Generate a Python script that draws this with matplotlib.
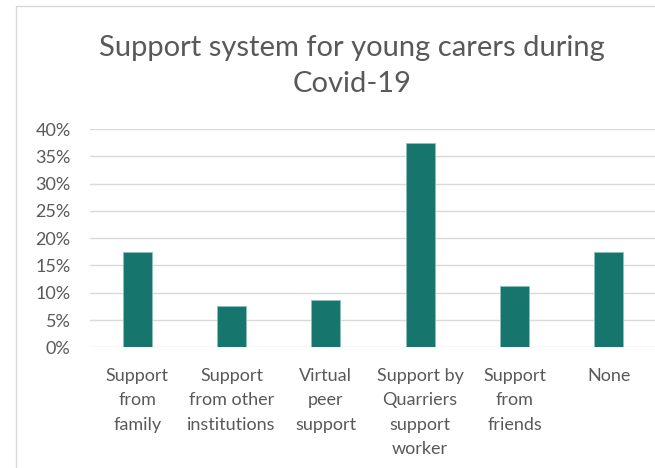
import matplotlib
matplotlib.use("Agg")
import matplotlib.pyplot as plt
from matplotlib.patches import Rectangle
from matplotlib.ticker import FuncFormatter, MultipleLocator

categories = [
    "Support\nfrom\nfamily",
    "Support\nfrom other\ninstitutions",
    "Virtual\npeer\nsupport",
    "Support by\nQuarriers\nsupport\nworker",
    "Support\nfrom\nfriends",
    "None",
]
shares = [0.175, 0.075, 0.0875, 0.375, 0.1125, 0.175]
title = "Support system for young carers during\nCovid-19"

W, H = 655, 468
fig = plt.figure(figsize=(W / 100, H / 100), dpi=100)
plt.rcParams["font.family"] = ["Lato", "DejaVu Sans"]

# chart frame
fig.patches.append(Rectangle((16 / W, -0.1), 1.2, 1 - 6 / H + 0.1,
                             transform=fig.transFigure, fill=False,
                             edgecolor="#d9d9d9", linewidth=1.0))

ax = fig.add_axes([90 / W, 1 - 347.3 / H, 566 / W, (347.3 - 129) / H])
x = range(len(categories))
ax.bar(x, shares, width=0.31, color="#16756d", edgecolor="#8fbfba",
       linewidth=0.6, zorder=3)
ax.set_xlim(-0.5, len(categories) - 0.5)
ax.set_ylim(0, 0.40)
ax.yaxis.set_major_locator(MultipleLocator(0.05))
ax.yaxis.set_major_formatter(FuncFormatter(lambda v, p: f"{v*100:.0f}%"))
ax.grid(axis="y", color="#d9d9d9", linewidth=1.0, zorder=0)
for s in ax.spines.values():
    s.set_visible(False)
ax.tick_params(axis="both", length=0, labelsize=13, colors="#595959")
ax.tick_params(axis="y", pad=14)
ax.tick_params(axis="x", pad=15)
ax.set_xticks(list(x))
ax.set_xticklabels(categories, linespacing=1.63)

fig.text(352 / W, 1 - 66 / H, title, ha="center", va="center",
         fontsize=21, color="#595959", linespacing=1.5)

fig.savefig("out.png", dpi=100)
